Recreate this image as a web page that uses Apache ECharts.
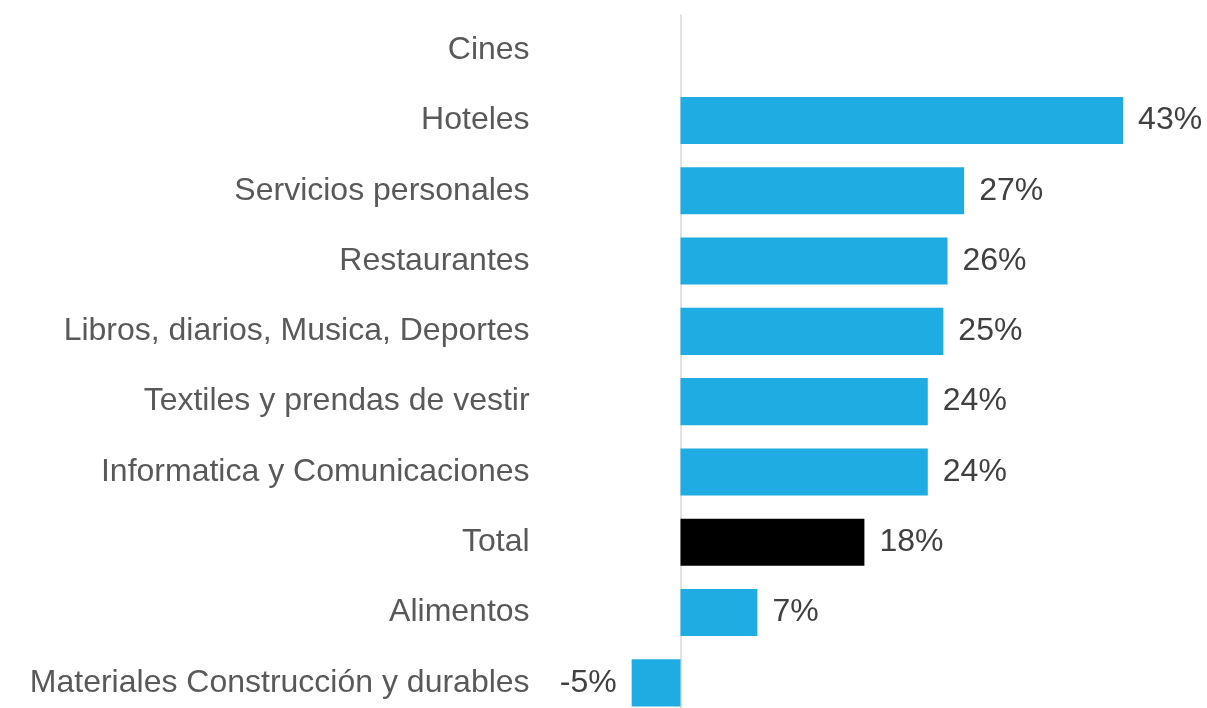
<!DOCTYPE html>
<html>
<head>
<meta charset="utf-8">
<style>
  html, body { margin: 0; padding: 0; background: #fff; }
  #chart { width: 1207px; height: 708px; }
</style>
<script src="https://cdn.jsdelivr.net/npm/echarts@6/dist/echarts.min.js"></script>
</head>
<body>
<div id="chart"></div>
<script>
// categories from top to bottom
const categories = [
  'Cines',
  'Hoteles',
  'Servicios personales',
  'Restaurantes',
  'Libros, diarios, Musica, Deportes',
  'Textiles y prendas de vestir',
  'Informatica y Comunicaciones',
  'Total',
  'Alimentos',
  'Materiales Construcción y durables'
]
// variación en % (Cines sin dato)
const values = [null, 42.6, 27.3, 25.7, 25.3, 23.8, 23.8, 17.7, 7.4, -4.7]
const highlight = 'Total'

const blue = '#1eace2'

const chart = echarts.init(document.getElementById('chart'))

chart.setOption({
  animation: false,
  grid: {
    left: 576.6,
    width: 623.4,
    top: 15,
    height: 703,
    containLabel: false,
    outerBoundsMode: 'none'
  },
  xAxis: {
    type: 'value',
    min: -10,
    max: 50,
    show: false
  },
  yAxis: {
    type: 'category',
    inverse: true,
    data: categories,
    axisTick: { show: false },
    axisLine: {
      onZero: true,
      lineStyle: { color: '#d9d9d9', width: 1.5 }
    },
    axisLabel: {
      // labels stay at grid left, only the line moves to zero
      margin: 47,
      color: '#595959',
      fontFamily: 'Liberation Sans, Arial, sans-serif',
      fontSize: 32
    }
  },
  series: [{
    type: 'bar',
    barCategoryGap: '33%',
    data: values.map((v, i) => ({
      value: v,
      itemStyle: { color: categories[i] === highlight ? '#000000' : blue },
      label: { position: v < 0 ? 'left' : 'right' }
    })),
    label: {
      show: true,
      distance: 15,
      color: '#404040',
      fontFamily: 'Liberation Sans, Arial, sans-serif',
      fontSize: 32,
      formatter: p => p.value == null ? '' : Math.round(p.value) + '%'
    }
  }]
})
</script>
</body>
</html>
